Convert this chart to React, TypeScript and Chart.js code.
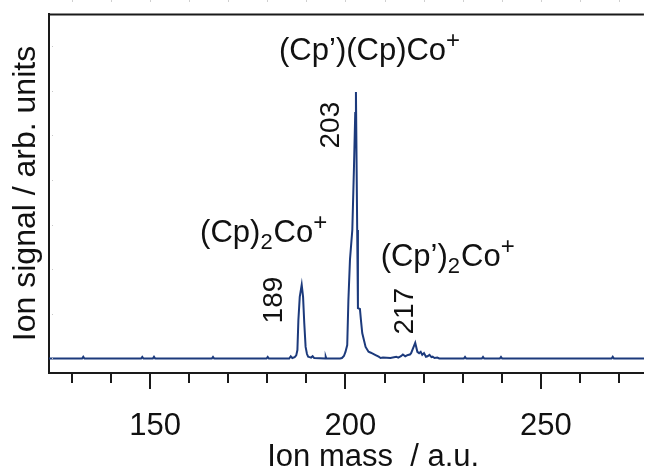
import { useEffect, useRef } from 'react';
import { Chart, registerables } from 'chart.js';

Chart.register(...registerables);

const FONT = '"Liberation Sans", Arial, Helvetica, sans-serif';
const FRAME = '#1a1a1a';
const LINE = '#1c3a7c';
const TEXT = '#111111';

// Ion mass (a.u.) and ion signal (arb. units)
const massValues = [
  124.1, 132.6, 132.9, 133.2, 147.7, 148.0, 148.3, 150.7, 151.0, 151.3,
  165.8, 166.1, 166.4, 179.8, 180.1, 180.4, 185.6, 186.0, 186.4, 187.0,
  187.4, 187.7, 187.95, 188.3, 188.8, 189.15, 189.45, 189.8, 190.15, 190.45,
  190.8, 191.2, 191.6, 192.0, 194.8, 194.95, 195.1, 198.6, 199.1, 199.6,
  200.0, 200.45, 200.75, 201.15, 201.75, 202.17, 202.5, 202.68, 203.0, 203.19,
  203.7, 203.96, 204.29, 205.15, 205.9, 206.5, 207.7, 208.5, 209.0, 209.6,
  211.5, 213.0, 213.5, 214.2, 214.7, 215.3, 216.0, 216.5, 216.8, 217.85,
  218.4, 218.85, 219.25, 219.65, 220.1, 220.6, 221.0, 221.5, 222.0, 222.3,
  222.8, 223.5, 224.0, 230.3, 230.6, 230.9, 234.9, 235.2, 235.5, 239.5,
  239.8, 240.1, 268.1, 268.4, 268.7, 276.4,
];
const signalValues = [
  0, 0, 0.4, 0, 0, 0.35, 0, 0, 0.4, 0,
  0, 0.35, 0, 0, 0.35, 0, 0, 0.5, 0.1, 0.3,
  0.7, 1.9, 8.6, 13.8, 16.5, 13.8, 8.0, 2.6, 1.0, 0.4,
  0.3, 0.2, 0.5, 0.1, 0, 0.4, 0, 0, 0.1, 0.56,
  1.46, 3.0, 13.1, 22.1, 28.8, 42.6, 55.0, 59.7, 28.8, 11.3,
  11.1, 8.6, 5.7, 2.6, 1.5, 1.3, 0.78, 0.4, 0.1, 0.2,
  0.1, 0.4, 0.2, 0.5, 0.9, 0.5, 0.8, 0.9, 1.2, 3.5,
  1.5, 1.2, 1.5, 0.8, 1.2, 0.4, 0.5, 0.8, 0.3, 0.4,
  0.1, 0.2, 0, 0, 0.35, 0, 0, 0.35, 0, 0,
  0.35, 0, 0, 0.4, 0, 0,
];

const xMin = 124.13;
const xMax = 276.38;
const yMin = -3.25;
const yMax = 77.2;
const xTickStep = 10;
const xLabelStep = 50;
const yTickStep = 10;

const xTitle = 'Ion mass  / a.u.';
const yTitle = 'Ion signal / arb. units';
const xTitleMass = 207.1;

// rotated peak mass labels
const peakLabels = ['189', '203', '217'];
const peakLabelMass = [181.9, 196.4, 215.3];
const peakLabelSignal = [13.1, 52.3, 10.6];

// ion labels: segments [text, kind] with kind n = normal, sub, sup
const ionLabelParts: [string, string][][] = [
  [['(Cp\u2019)(Cp)Co', 'n'], ['+', 'sup']],
  [['(Cp)', 'n'], ['2', 'sub'], ['Co', 'n'], ['+', 'sup']],
  [['(Cp\u2019)', 'n'], ['2', 'sub'], ['Co', 'n'], ['+', 'sup']],
];
const ionLabelMass = [183.0, 162.8, 209.0];
const ionLabelSignal = [66.9, 26.1, 20.7];

const overlayPlugin = {
  id: 'overlay',
  afterDraw(chart: any) {
    const ctx: CanvasRenderingContext2D = chart.ctx;
    const xs = chart.scales.x;
    const ys = chart.scales.y;
    const a = chart.chartArea;
    ctx.save();

    // top frame line
    ctx.strokeStyle = FRAME;
    ctx.lineWidth = 2;
    ctx.beginPath();
    ctx.moveTo(a.left - 1, a.top + 0.5);
    ctx.lineTo(a.right, a.top + 0.5);
    ctx.stroke();

    // x tick marks (major / minor)
    xs.ticks.forEach((t: any) => {
      const px = Math.round(xs.getPixelForValue(t.value));
      const len = t.value % xLabelStep === 0 ? 16 : 10;
      ctx.beginPath();
      ctx.moveTo(px, a.bottom);
      ctx.lineTo(px, a.bottom + len);
      ctx.stroke();
      ctx.fillStyle = '#d0d0d0';
      ctx.fillRect(px, 0, 1, 2);
    });

    // faint inner y ticks
    ctx.fillStyle = '#c8c8c8';
    ys.ticks.forEach((t: any) => {
      const py = Math.round(ys.getPixelForValue(t.value));
      ctx.fillRect(a.left + 3, py, 1, 1);
    });

    // x title
    ctx.fillStyle = TEXT;
    ctx.font = `31px ${FONT}`;
    ctx.textAlign = 'center';
    ctx.textBaseline = 'alphabetic';
    ctx.fillText(xTitle, xs.getPixelForValue(xTitleMass), chart.height - 2);

    // rotated peak labels
    ctx.font = `28px ${FONT}`;
    ctx.textBaseline = 'middle';
    peakLabels.forEach((lbl, i) => {
      ctx.save();
      ctx.translate(xs.getPixelForValue(peakLabelMass[i]), ys.getPixelForValue(peakLabelSignal[i]));
      ctx.rotate(-Math.PI / 2);
      ctx.fillText(lbl, 0, 0);
      ctx.restore();
    });

    // ion labels
    ctx.textAlign = 'left';
    ctx.textBaseline = 'alphabetic';
    ionLabelParts.forEach((parts, i) => {
      let x = xs.getPixelForValue(ionLabelMass[i]);
      const y = ys.getPixelForValue(ionLabelSignal[i]);
      parts.forEach(([txt, kind]) => {
        let dy = 0;
        if (kind === 'n') ctx.font = `31px ${FONT}`;
        else if (kind === 'sub') ctx.font = `22px ${FONT}`;
        else ctx.font = `24px ${FONT}`;
        if (kind === 'sub') dy = 7;
        if (kind === 'sup') dy = -12;
        ctx.fillText(txt, x, y + dy);
        x += ctx.measureText(txt).width + (kind === 'sub' ? 1 : 0);
      });
    });

    ctx.restore();
  },
};

export default function App() {
  const canvasRef = useRef<HTMLCanvasElement | null>(null);

  useEffect(() => {
    if (!canvasRef.current) return;
    const points = massValues.map((m, i) => ({ x: m, y: signalValues[i] }));
    const chart = new Chart(canvasRef.current, {
      type: 'line',
      data: {
        datasets: [
          {
            data: points,
            borderColor: LINE,
            borderWidth: 2,
            pointRadius: 0,
            tension: 0,
            fill: false,
          },
        ],
      },
      options: {
        animation: false,
        responsive: false,
        devicePixelRatio: 1,
        layout: { padding: { top: 14, left: 0, right: 0, bottom: 0 } },
        plugins: {
          legend: { display: false },
          tooltip: { enabled: false },
        },
        scales: {
          x: {
            type: 'linear',
            min: xMin,
            max: xMax,
            grid: { display: false },
            border: { display: true, color: FRAME, width: 2 },
            ticks: {
              stepSize: xTickStep,
              includeBounds: false,
              autoSkip: false,
              maxRotation: 0,
              padding: 27,
              labelOffset: 5,
              color: TEXT,
              font: { family: FONT, size: 31 },
              callback: (v: any) => (Number(v) % xLabelStep === 0 ? String(v) : ''),
            },
            afterFit: (s: any) => {
              s.height = 95;
            },
          },
          y: {
            type: 'linear',
            min: yMin,
            max: yMax,
            grid: { display: false },
            border: { display: true, color: FRAME, width: 2 },
            ticks: { display: false, stepSize: yTickStep, includeBounds: false },
            title: {
              display: true,
              text: yTitle,
              color: TEXT,
              font: { family: FONT, size: 32 },
              padding: { top: 7, bottom: 0 },
            },
            afterFit: (s: any) => {
              s.width = 49;
            },
          },
        },
      },
      plugins: [overlayPlugin],
    });
    return () => chart.destroy();
  }, []);

  return (
    <div style={{ position: 'absolute', left: 0, top: 0, width: 646, height: 468 }}>
      <canvas ref={canvasRef} width={646} height={468} style={{ display: 'block', width: 646, height: 468 }} />
    </div>
  );
}
